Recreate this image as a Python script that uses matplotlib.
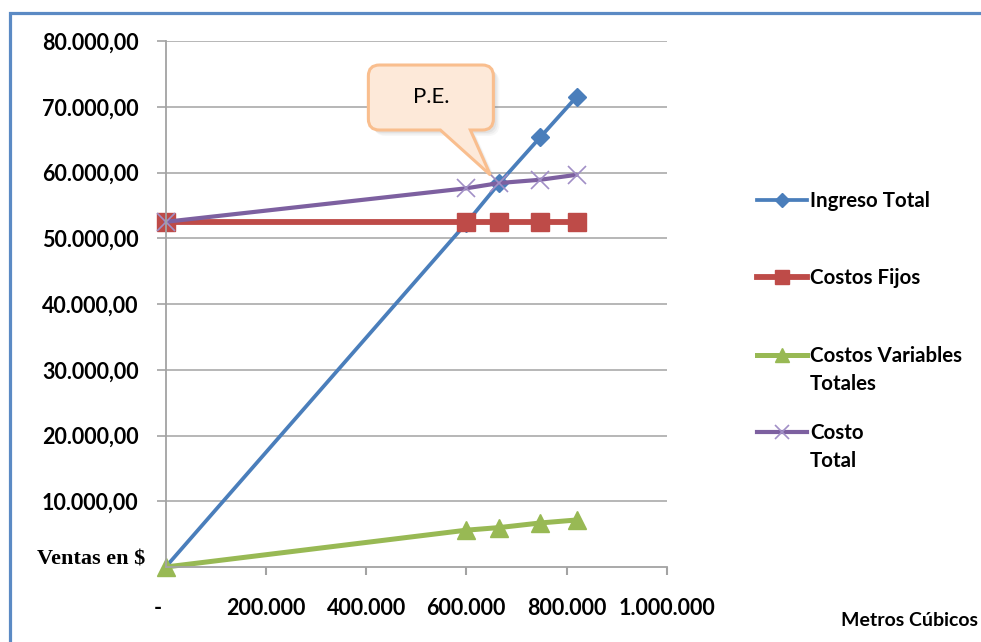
import matplotlib.pyplot as plt
import matplotlib.ticker as mticker
from matplotlib.path import Path
from matplotlib.patches import PathPatch, Rectangle
from matplotlib.lines import Line2D
from matplotlib.transforms import IdentityTransform

# Punto de equilibrio: ventas (m3) vs ingresos y costos
metros = [0, 600000, 666000, 748000, 820000]
ingreso_total = [0, 52300, 58400, 65400, 71500]
costos_fijos = [52500, 52500, 52500, 52500, 52500]
costos_variables = [0, 5600, 6000, 6700, 7150]
costo_total = [52500, 57600, 58400, 58900, 59650]

x_ticks = [0, 200000, 400000, 600000, 800000, 1000000]
x_labels = ['-   ', '200.000', '400.000', '600.000', '800.000', '1.000.000']
y_ticks = [10000, 20000, 30000, 40000, 50000, 60000, 70000, 80000]

series = [
    ('Ingreso Total', ingreso_total, '#4a7ebb', 2.7, 'D', 9, None, [1, 2, 3, 4]),
    ('Costos Fijos', costos_fijos, '#be4b48', 4.2, 's', 13, None, None),
    ('Costos Variables\nTotales', costos_variables, '#98b954', 3.6, '^', 13, None, None),
    ('Costo\nTotal', costo_total, '#7d60a0', 3.0, 'x', 13, '#a18fc6', None),
]

FONT = 'Lato'
dpi = 100
fig = plt.figure(figsize=(9.81, 6.42), dpi=dpi)
W, H = 981, 642

ax = fig.add_axes([165.7 / W, 1 - 567 / H, 501 / W, 526 / H])
for label, vals, color, lw, marker, ms, mcolor, every in series:
    mc = mcolor or color
    ax.plot(metros, vals, color=color, lw=lw, marker=marker, ms=ms, markevery=every,
            mfc=mc, mec=mc, mew=1.2 if marker == 'x' else 1, clip_on=False,
            solid_capstyle='round')

ax.set_xlim(0, 1000000)
ax.set_ylim(0, 80000)
ax.set_xticks(x_ticks)
ax.set_xticklabels(x_labels)
ax.set_yticks(y_ticks)
ax.yaxis.set_major_formatter(mticker.FuncFormatter(
    lambda v, p: f'{v:,.2f}'.replace(',', 'X').replace('.', ',').replace('X', '.')))
ax.grid(axis='y', color='#a3a3a3', lw=1.1)
ax.set_axisbelow(True)
for s in ['top', 'right']:
    ax.spines[s].set_visible(False)
for s in ['left', 'bottom']:
    ax.spines[s].set_color('#a3a3a3')
    ax.spines[s].set_linewidth(1.3)
ax.tick_params(axis='y', length=6.5, width=1.2, color='#a3a3a3', pad=13)
ax.tick_params(axis='x', length=6, width=1.5, color='#a3a3a3', pad=16)
for t in ax.get_xticklabels() + ax.get_yticklabels():
    t.set_fontfamily(FONT)
    t.set_fontweight('bold')
    t.set_fontsize(15.5)

fig.text(145 / W, 1 - 560 / H, 'Ventas en $', ha='right', va='center',
         family='Liberation Serif', weight='bold', fontsize=16)
fig.text(978 / W, 1 - 620 / H, 'Metros Cúbicos', ha='right', va='center',
         family=FONT, weight='bold', fontsize=14)

# leyenda dibujada a mano
leg_y = [200, 277, 355, 432]
for (label, vals, color, lw, marker, ms, mcolor, every), yy in zip(series, leg_y):
    mc = mcolor or color
    yf = 1 - yy / H
    fig.add_artist(Line2D([757 / W, 807 / W], [yf, yf], color=color, lw=lw,
                          transform=fig.transFigure))
    fig.add_artist(Line2D([782 / W], [yf], marker=marker, ms=ms * 0.8, mfc=mc, mec=mc,
                          mew=1.2 if marker == 'x' else 1, transform=fig.transFigure))
    fig.text(810 / W, yf + 9 / H, label, ha='left', va='top', family=FONT,
             weight='bold', fontsize=14.8, linespacing=1.5)

# marco azul
fig.add_artist(Rectangle((10 / W, -0.1), 1.2, 1.1 - 13 / H, transform=fig.transFigure,
                         fill=False, ec='#5b8ac4', lw=2.3))

# globo "P.E." apuntando al punto de equilibrio
px, py = ax.transData.transform((metros[2], ingreso_total[2]))
tip = (px - 9, py + 8)
l, r = tip[0] - 122, tip[0] + 3
b, t = tip[1] + 45, tip[1] + 110
rad = 11
verts = [(l + rad, b), (tip[0] - 50, b), tip, (tip[0] - 20, b), (r - rad, b),
         (r, b), (r, b + rad), (r, t - rad), (r, t), (r - rad, t), (l + rad, t),
         (l, t), (l, t - rad), (l, b + rad), (l, b), (l + rad, b), (l + rad, b)]
codes = [Path.MOVETO, Path.LINETO, Path.LINETO, Path.LINETO, Path.LINETO,
         Path.CURVE3, Path.CURVE3, Path.LINETO, Path.CURVE3, Path.CURVE3, Path.LINETO,
         Path.CURVE3, Path.CURVE3, Path.LINETO, Path.CURVE3, Path.CURVE3, Path.CLOSEPOLY]
for k, a in [(6, 0.06), (4.5, 0.08), (3, 0.1)]:
    sv = [(vx + k, vy - k) for vx, vy in verts]
    fig.add_artist(PathPatch(Path(sv, codes), fc='#808080', ec='none', alpha=a,
                             transform=IdentityTransform()))
fig.add_artist(PathPatch(Path(verts, codes), fc='#fde9d9', ec='#f9be8e', lw=2.2,
                         transform=IdentityTransform()))
fig.text((l + r) / 2 / W, (b + t + 2) / 2 / H, 'P.E.', ha='center', va='center',
         family=FONT, fontsize=16)

fig.savefig('out.png', dpi=dpi)
